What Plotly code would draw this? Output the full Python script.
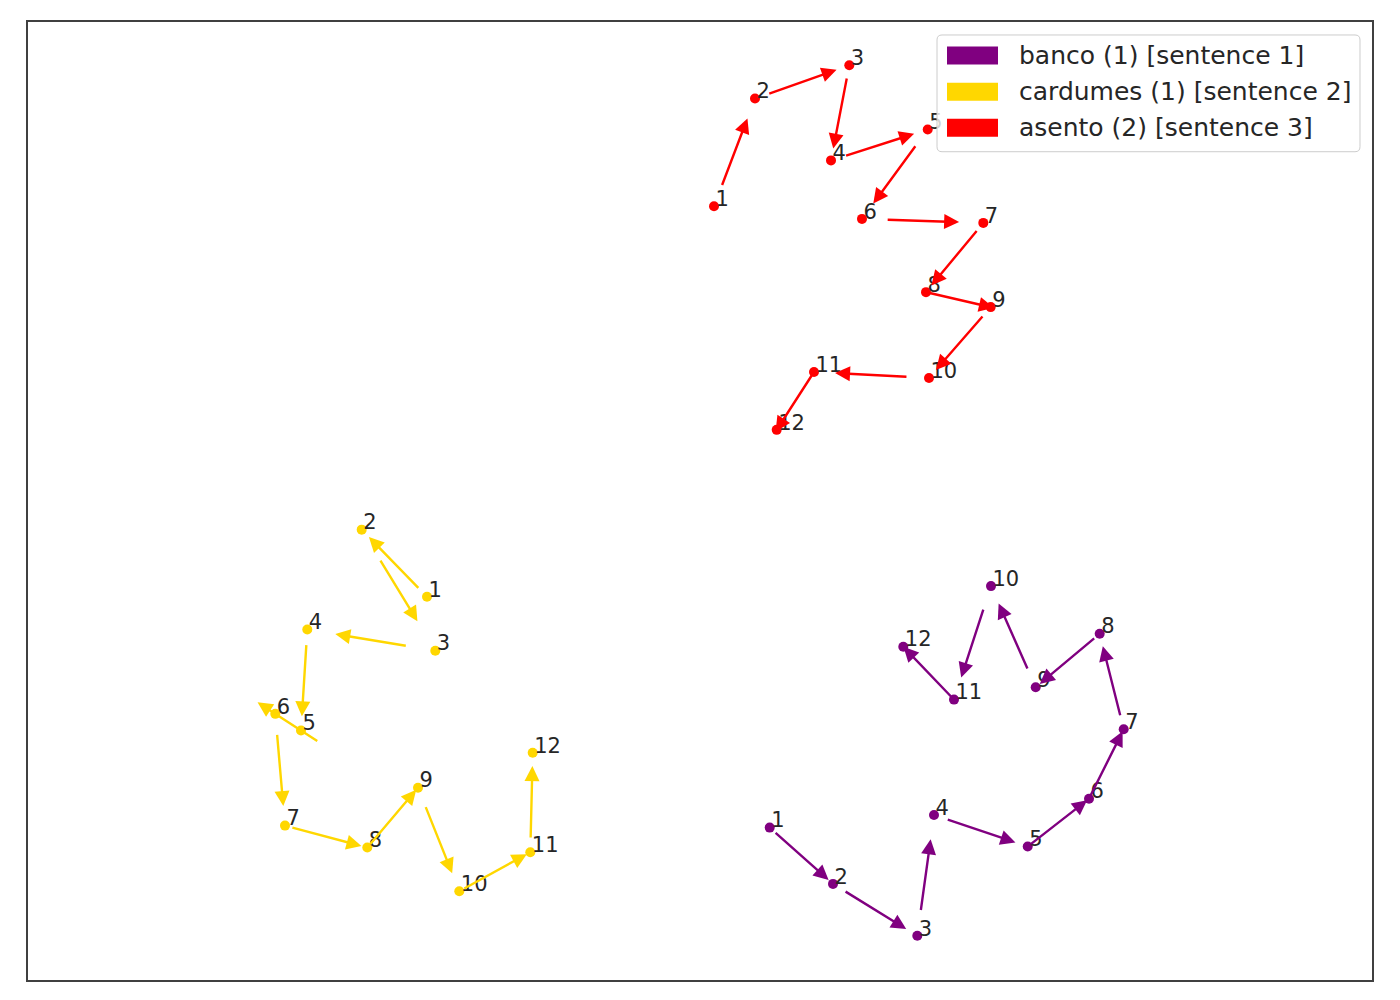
import plotly.graph_objects as go
import math

# ---------------- data (2-D embedding coordinates) ----------------
series_names = ["banco (1) [sentence 1]", "cardumes (1) [sentence 2]", "asento (2) [sentence 3]"]
series_colors = ["#800080", "#FFD700", "#FF0000"]

banco_x = [769.7, 833.0, 917.3, 934.0, 1027.7, 1089.0, 1123.7, 1099.7, 1035.7, 991.0, 954.0, 903.3]
banco_y = [172.7, 116.3, 64.3, 185.3, 153.7, 201.7, 271.3, 367.0, 313.3, 414.7, 301.0, 354.0]

cardumes_x = [427.0, 361.7, 435.3, 307.3, 301.0, 275.3, 285.0, 367.3, 418.0, 459.3, 530.3, 532.7]
cardumes_y = [404.0, 471.3, 350.0, 371.3, 270.0, 286.7, 174.7, 152.7, 212.7, 109.0, 148.0, 247.7]

asento_x = [714.0, 755.0, 849.3, 831.0, 927.7, 862.0, 983.3, 926.0, 990.7, 929.0, 814.0, 776.7]
asento_y = [795.3, 903.3, 936.7, 841.3, 872.3, 782.7, 778.7, 709.3, 694.3, 623.3, 629.3, 571.3]

token_labels = [str(i) for i in range(1, 13)]

# ---------------- layout geometry ----------------
PAGE_OFF = 8                     # default body margin of the html page
W, H = 1384, 984
ML, MR, MT, MB = 20, 20, 12, 12
XR = [28, 1372]
YR = [20, 980]
plot_w = W - ML - MR
plot_h = H - MT - MB
sx = plot_w / (XR[1] - XR[0])   # px per data unit
sy = plot_h / (YR[1] - YR[0])

TEXT = "#262626"
FONT = "DejaVu Sans"
ARROW_LEN = 73.0  # px, fixed arrow length (quiver style, centred on segment midpoint)

fig = go.Figure()
annotations = []

series = [(banco_x, banco_y), (cardumes_x, cardumes_y), (asento_x, asento_y)]

for (xs, ys), name, col in zip(series, series_names, series_colors):
    fig.add_trace(go.Scatter(
        x=xs, y=ys, mode="markers", name=name, showlegend=False,
        marker=dict(color=col, size=10, line=dict(width=0)),
        hoverinfo="skip"))
    for i in range(len(xs) - 1):
        dxp = (xs[i + 1] - xs[i]) * sx
        dyp = (ys[i + 1] - ys[i]) * sy
        n = math.hypot(dxp, dyp)
        ux, uy = dxp / n, dyp / n
        mx, my = (xs[i] + xs[i + 1]) / 2, (ys[i] + ys[i + 1]) / 2
        h = ARROW_LEN / 2
        annotations.append(dict(
            x=mx + ux * h / sx, y=my + uy * h / sy,
            ax=mx - ux * h / sx, ay=my - uy * h / sy,
            xref="x", yref="y", axref="x", ayref="y",
            text="", showarrow=True, arrowhead=2, arrowsize=1.25,
            arrowwidth=2.4, arrowcolor=col, standoff=0, startstandoff=0))

# token index labels (text trace so that the legend box may cover them)
for (xs, ys), col in zip(series, series_colors):
    fig.add_trace(go.Scatter(
        x=[v + 1.5 / sx for v in xs], y=[v - 5.0 / sy for v in ys],
        mode="text", text=token_labels, textposition="top right",
        textfont=dict(family=FONT, size=21, color=TEXT),
        showlegend=False, hoverinfo="skip"))

# ---------------- manual legend ----------------
def px2paper(px, py):
    # px, py are screen pixels of the final page
    return (px - PAGE_OFF - ML) / plot_w, 1 - (py - PAGE_OFF - MT) / plot_h

def rounded_rect(x0, y0, x1, y1, r):
    def P(x, y):
        a, b = px2paper(x, y)
        return f"{a:.5f},{b:.5f}"
    return (f"M{P(x0 + r, y0)} L{P(x1 - r, y0)} Q{P(x1, y0)} {P(x1, y0 + r)} "
            f"L{P(x1, y1 - r)} Q{P(x1, y1)} {P(x1 - r, y1)} "
            f"L{P(x0 + r, y1)} Q{P(x0, y1)} {P(x0, y1 - r)} "
            f"L{P(x0, y0 + r)} Q{P(x0, y0)} {P(x0 + r, y0)} Z")

shapes = [dict(type="path", xref="paper", yref="paper", layer="above",
               path=rounded_rect(937, 33, 1360, 150, 5),
               fillcolor="rgba(255,255,255,0.8)", line=dict(color="#cccccc", width=1))]

row_centers = [53.5, 90.0, 126.0]
for name, col, cy in zip(series_names, series_colors, row_centers):
    x0p, y0p = px2paper(947, cy - 9)
    x1p, y1p = px2paper(998, cy + 9)
    shapes.append(dict(type="rect", xref="paper", yref="paper", layer="above",
                       x0=x0p, x1=x1p, y0=y1p, y1=y0p,
                       fillcolor=col, line=dict(width=0)))
    tx, ty = px2paper(1017, cy)
    annotations.append(dict(x=tx, y=ty, xref="paper", yref="paper",
                            xanchor="left", yanchor="middle", showarrow=False,
                            text=name, font=dict(family=FONT, size=25, color=TEXT)))

fig.update_layout(
    width=W, height=H,
    margin=dict(l=ML, r=MR, t=MT, b=MB),
    paper_bgcolor="white", plot_bgcolor="white",
    showlegend=False,
    shapes=shapes, annotations=annotations,
    xaxis=dict(range=XR, showgrid=False, zeroline=False, showticklabels=False,
               ticks="", showline=True, mirror=True, linecolor="#404040", linewidth=2),
    yaxis=dict(range=YR, showgrid=False, zeroline=False, showticklabels=False,
               ticks="", showline=True, mirror=True, linecolor="#404040", linewidth=2),
)

fig.write_html("out.html")
